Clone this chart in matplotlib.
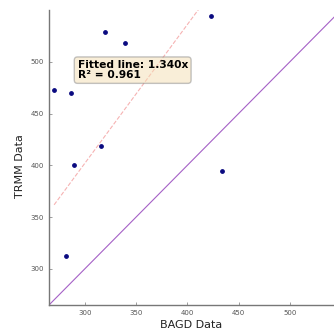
import numpy as np
import matplotlib
matplotlib.use("Agg")
import matplotlib.pyplot as plt

bagd = [270, 286.6, 319.3, 339.5, 315.4, 289, 282, 423, 434]
trmm = [472.3, 469.7, 529, 518.4, 418.7, 400, 311.9, 544, 394]
slope = 1.340
r2 = 0.961

fig = plt.figure(figsize=(3.34, 3.30), dpi=100)
ax = fig.add_axes([49/334, 25/330, 285/334, 295/330])

ax.scatter(bagd, trmm, s=6, color='#0a0a80', zorder=3)
lo, hi = 265, 543
ax.plot([lo, hi], [lo, hi], color='#9b4fc0', lw=0.8, alpha=0.9)
xf = np.array([min(bagd), max(bagd)])
ax.plot(xf, slope * xf, color='#f08080', lw=0.8, ls='--', alpha=0.6)

ax.set_xlim(lo, hi)
ax.set_ylim(265, 550)
ax.set_xticks([300, 350, 400, 450, 500])
ax.set_yticks([300, 350, 400, 450, 500])
for s in ['top', 'right']:
    ax.spines[s].set_visible(False)
for s in ['left', 'bottom']:
    ax.spines[s].set_color('#777777')
    ax.spines[s].set_linewidth(1.0)
ax.tick_params(direction='in', length=2, width=0.5, colors='#777777', labelsize=5, labelcolor='#555555')
ax.set_xlabel('BAGD Data', fontsize=8, color='#222222')
ax.set_ylabel('TRMM Data', fontsize=8, color='#222222')
ax.xaxis.set_label_coords(0.5, -0.05)
ax.yaxis.set_label_coords(-0.085, 0.47)

ax.text(0.10, 0.83, f'Fitted line: {slope:.3f}x\nR² = {r2:.3f}', transform=ax.transAxes,
        fontsize=7.7, fontweight='bold', va='top', ha='left', linespacing=1.0,
        bbox=dict(boxstyle='round,pad=0.3', facecolor='wheat', alpha=0.5, edgecolor='#888888'))

fig.savefig('out.png', dpi=100)
